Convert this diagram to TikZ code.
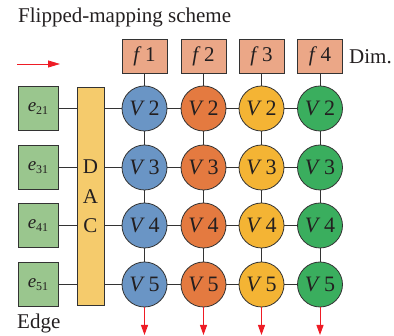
\documentclass[tikz,border=0pt]{standalone}
\usepackage{fontspec}
\setmainfont{Liberation Serif}
\usetikzlibrary{arrows.meta}
\definecolor{cblue}{HTML}{6A95C5}
\definecolor{corange}{HTML}{E47A40}
\definecolor{cyellow}{HTML}{F4B434}
\definecolor{cgreen}{HTML}{3AAE5E}
\definecolor{ebox}{HTML}{9AC68E}
\definecolor{dacc}{HTML}{F5CB6C}
\definecolor{fbox}{HTML}{EBA787}
\definecolor{lc}{HTML}{333333}
\definecolor{tc}{HTML}{231F20}
\definecolor{ared}{HTML}{EE1C25}
\tikzset{
  vnode/.style={circle,draw=lc,line width=0.8pt,minimum size=45pt,inner sep=0pt,text=tc,font=\fontsize{22}{24}\selectfont},
  fnode/.style={rectangle,draw=lc,line width=0.8pt,fill=fbox,minimum width=45pt,minimum height=34pt,inner sep=0pt,text=tc,font=\fontsize{21}{24}\selectfont},
  enode/.style={rectangle,draw=lc,line width=0.8pt,fill=ebox,minimum width=40pt,minimum height=44pt,inner sep=0pt,text=tc,font=\fontsize{19}{22}\selectfont},
  conn/.style={draw=lc,line width=0.8pt},
  redarrow/.style={draw=ared,line width=1pt,-{Triangle[length=10pt,width=7pt]}},
  lbl/.style={font=\fontsize{21}{24}\selectfont,inner sep=0pt,text=tc}
}
\begin{document}
\begin{tikzpicture}[x=1pt,y=-1pt]
\useasboundingbox (0,0) rectangle (394,336);
\node[lbl,anchor=west] (title) at (18,17) {Flipped-mapping scheme};
\coordinate (ra1) at (17,64);
\coordinate (ra2) at (60,64);
\draw[redarrow,line width=0.8pt,-{Triangle[length=12pt,width=7pt]}] (ra1) -- (ra2);
\node[lbl,anchor=west] (dim) at (349,57) {Dim.};
\node[lbl,anchor=west] (edge) at (17,323) {Edge};
% DAC
\node[rectangle,draw=lc,line width=0.8pt,fill=dacc,minimum width=27pt,minimum height=218pt,inner sep=0pt] (dac) at (90.5,196) {};
\node[lbl] (dD) at (90.5,167) {D};
\node[lbl] (dA) at (90.5,197) {A};
\node[lbl] (dC) at (90.5,226) {C};
% e boxes
\foreach \r/\y in {2/108.5,3/167.5,4/225.5,5/284.5}{
  \node[enode] (e\r) at (38,\y) {\textit{e}\raisebox{-0.35ex}{\fontsize{12}{14}\selectfont \r1}};
  \draw[conn] (e\r.east) -- (e\r.east -| dac.west);
}
% columns
\foreach \i/\x/\col in {1/144.5/cblue,2/203.5/corange,3/261.5/cyellow,4/320/cgreen}{
  \node[fnode] (f\i) at (\x,56) {\textit{f}\,\i};
  \foreach \r/\y in {2/108.5,3/167.5,4/225.5,5/284.5}{
    \node[vnode,fill=\col] (v\i-\r) at (\x,\y) {\textit{V}\,\r};
  }
  \draw[conn] (f\i) -- (v\i-2);
  \draw[conn] (v\i-2) -- (v\i-3);
  \draw[conn] (v\i-3) -- (v\i-4);
  \draw[conn] (v\i-4) -- (v\i-5);
  \coordinate (b\i) at (\x,335);
  \draw[redarrow] (v\i-5.south) -- (b\i);
}
\foreach \r in {2,3,4,5}{
  \draw[conn] (v1-\r.west -| dac.east) -- (v1-\r);
  \draw[conn] (v1-\r) -- (v2-\r);
  \draw[conn] (v2-\r) -- (v3-\r);
  \draw[conn] (v3-\r) -- (v4-\r);
}
\end{tikzpicture}
\end{document}
